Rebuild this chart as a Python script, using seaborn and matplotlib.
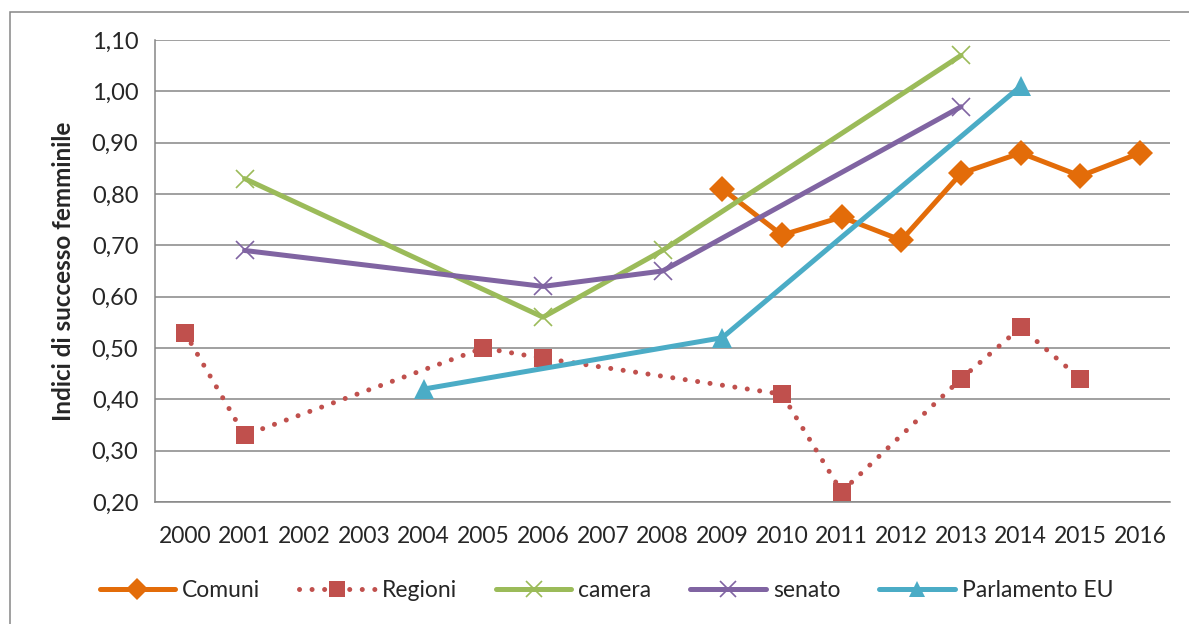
import numpy as np
import matplotlib
matplotlib.use("Agg")
import matplotlib.pyplot as plt
import matplotlib.patches as mpatches
from matplotlib.ticker import FuncFormatter, MultipleLocator
import seaborn as sns

# data (NaN = no value that year)
years = list(range(2000, 2017))
nan = np.nan
comuni = [nan, nan, nan, nan, nan, nan, nan, nan, nan, 0.81, 0.72, 0.755, 0.71, 0.84, 0.88, 0.835, 0.88]
regioni = [0.53, 0.33, nan, nan, nan, 0.50, 0.48, nan, nan, nan, 0.41, 0.22, nan, 0.44, 0.54, 0.44, nan]
camera = [nan, 0.83, nan, nan, nan, nan, 0.56, nan, 0.69, nan, nan, nan, nan, 1.07, nan, nan, nan]
senato = [nan, 0.69, nan, nan, nan, nan, 0.62, nan, 0.65, nan, nan, nan, nan, 0.97, nan, nan, nan]
parlamento_eu = [nan, nan, nan, nan, 0.42, nan, nan, nan, nan, 0.52, nan, nan, nan, nan, 1.01, nan, nan]

series = [
    ("Comuni", comuni, "#E36C09", "D", "-"),
    ("Regioni", regioni, "#C0504D", "s", (0, (0.01, 2.5))),
    ("camera", camera, "#9BBB59", "x", "-"),
    ("senato", senato, "#8064A2", "x", "-"),
    ("Parlamento EU", parlamento_eu, "#4BACC6", "^", "-"),
]

sns.set_theme(style="white")
plt.rcParams["font.family"] = ["Lato", "DejaVu Sans"]

fig = plt.figure(figsize=(11.89, 6.24), dpi=100)
ax = fig.add_axes([155 / 1189, 122 / 624, 1015 / 1189, 462 / 624])

# outer chart frame
frame = mpatches.Rectangle((10 / 1189, -0.05), 1.1, (624 - 12) / 624 + 0.05,
                           transform=fig.transFigure, fill=False,
                           edgecolor="#868686", linewidth=1.1, zorder=0)
fig.patches.append(frame)

for name, vals, color, marker, ls in series:
    x = np.array(years, dtype=float)
    y = np.array(vals, dtype=float)
    ok = ~np.isnan(y)
    if marker == "x":
        msize, mew = 13, 1.2
    elif marker == "^":
        msize, mew = 14, 0
    else:
        msize, mew = 13, 0
    sns.lineplot(x=x[ok], y=y[ok], ax=ax, color=color, linewidth=3.6,
                 linestyle=ls, marker=marker, markersize=msize,
                 markeredgewidth=mew, markeredgecolor=color,
                 label=name, sort=False, zorder=3)
    line = ax.get_lines()[-1]
    line.set_dash_capstyle("round")

ax.set_xlim(1999.5, 2016.5)
ax.set_ylim(0.20, 1.10)
ax.yaxis.set_major_locator(MultipleLocator(0.1))
ax.yaxis.set_major_formatter(FuncFormatter(lambda v, p: f"{v:.2f}".replace(".", ",")))
ax.set_xticks(years)
ax.set_xticklabels([str(y) for y in years])
ax.grid(axis="y", color="#868686", linewidth=1.1)
ax.grid(axis="x", visible=False)
for s in ["top", "right"]:
    ax.spines[s].set_visible(False)
for s in ["left", "bottom"]:
    ax.spines[s].set_color("#868686")
    ax.spines[s].set_linewidth(1.1)
ax.tick_params(axis="y", length=0, pad=12, labelsize=17)
ax.tick_params(axis="x", length=0, pad=17, labelsize=16.5)
ax.set_xlabel("")
ax.set_ylabel("Indici di successo femminile", fontsize=17.5, fontweight="bold", labelpad=12)

ax.get_legend().remove()
handles, labels = ax.get_legend_handles_labels()
fig.legend(handles, labels, loc="center", bbox_to_anchor=(0.51, 0.053), ncol=5,
           frameon=False, fontsize=16.5, handlelength=3.3, handletextpad=0.3,
           columnspacing=1.7, markerscale=0.85)

plt.savefig("out.png", dpi=100)
